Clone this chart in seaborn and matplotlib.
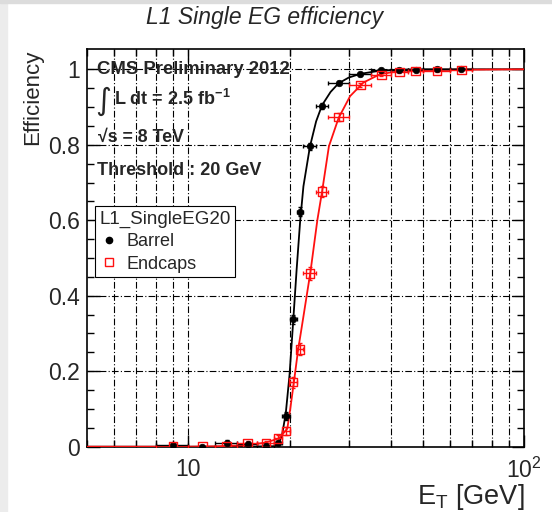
import numpy as np
import pandas as pd
import matplotlib
matplotlib.use('Agg')
import matplotlib.pyplot as plt
import seaborn as sns
from matplotlib.lines import Line2D
from matplotlib.patches import Rectangle
from matplotlib.ticker import FixedLocator, NullFormatter

# Bin centres and edges (GeV)
et = [9, 11, 13, 15, 17, 18.5, 19.5, 20.5, 21.5, 23, 25, 28, 32.5, 37.5, 42.5, 47.5, 55, 65]
bin_lo = [8, 10, 12, 14, 16, 18, 19, 20, 21, 22, 24, 26, 30, 35, 40, 45, 50, 60]
bin_hi = [10, 12, 14, 16, 18, 19, 20, 21, 22, 24, 26, 30, 35, 40, 45, 50, 60, 70]

# Measured efficiencies
barrel_eff = [0.005, 0.0, 0.011, 0.008, 0.003, 0.011, 0.082, 0.338, 0.623, 0.796,
              0.904, 0.965, 0.987, 0.997, 0.999, 0.999, 1.0, 1.0]
barrel_err = [0.005, 0.003, 0.006, 0.005, 0.003, 0.005, 0.01, 0.012, 0.012, 0.01,
              0.008, 0.005, 0.004, 0.002, 0.001, 0.001, 0.001, 0.001]
endcap_eff = [0.0, 0.0, 0.0, 0.01, 0.01, 0.022, 0.042, 0.171, 0.258, 0.459,
              0.676, 0.874, 0.958, 0.985, 0.993, 0.995, 0.996, 0.998]
endcap_err = [0.004, 0.004, 0.004, 0.005, 0.005, 0.008, 0.01, 0.015, 0.016, 0.018,
              0.015, 0.01, 0.006, 0.004, 0.003, 0.003, 0.003, 0.003]

# Fit curves
barrel_fit_x = [5, 10, 15, 18, 18.5, 19.0, 19.5, 20.0, 20.5, 21.0, 21.5, 22.0, 23.0, 24.0,
                25.0, 26.5, 28.0, 30.0, 32.5, 37.0, 42.0, 50.0, 100.0]
barrel_fit_y = [0, 0, 0, 0.001, 0.006, 0.03, 0.09, 0.19, 0.33, 0.47, 0.595, 0.69, 0.795,
                0.862, 0.905, 0.94, 0.963, 0.978, 0.988, 0.996, 0.999, 1.0, 1.0]
endcap_fit_x = [5, 10, 12, 15, 17, 18.6, 19.7, 20.1, 20.6, 21.2, 22.0, 23.1, 24.2, 25.0,
                26.2, 28.0, 30.3, 33.2, 37.2, 42.3, 50.0, 100.0]
endcap_fit_y = [0, 0, 0.001, 0.004, 0.011, 0.022, 0.048, 0.1, 0.17, 0.255, 0.345, 0.465,
                0.6, 0.676, 0.796, 0.871, 0.929, 0.965, 0.987, 0.995, 0.998, 1.0]

y_ticks = [0, 0.2, 0.4, 0.6, 0.8, 1.0]
y_labels = ['0', '0.2', '0.4', '0.6', '0.8', '1']
x_ticks = [10, 100]
x_labels = ['10', '$10^{2}$']

sns.set_style('ticks')
plt.rcParams['font.family'] = ['Liberation Sans', 'DejaVu Sans']
plt.rcParams['mathtext.fontset'] = 'custom'
plt.rcParams['mathtext.rm'] = 'Liberation Sans'
plt.rcParams['mathtext.it'] = 'Liberation Sans:italic'
plt.rcParams['mathtext.bf'] = 'Liberation Sans:bold'

fig = plt.figure(figsize=(5.52, 5.12), dpi=100)
fig.patch.set_facecolor('white')
fig.patches.append(Rectangle((0, 0), 7 / 552, 1, transform=fig.transFigure,
                             color='#ececec', zorder=-10))
fig.patches.append(Rectangle((0, 1 - 3 / 512), 1, 3 / 512, transform=fig.transFigure,
                             color='#dcdcdc', zorder=-10))
ax = fig.add_axes([87.3 / 552, 1 - 446.7 / 512, (524.3 - 87.3) / 552, (446.7 - 49.3) / 512])

ax.set_xscale('log')
ax.set_xlim(5, 100)
ax.set_ylim(0, 1.053)

# grid (ROOT-like dash-dot)
grid_ls = (0, (6, 2, 1, 2))
for xv in list(range(6, 10)) + [10] + list(range(20, 100, 10)):
    ax.axvline(xv, color='k', lw=0.8, ls=grid_ls, zorder=0)
for yv in y_ticks[1:]:
    ax.axhline(yv, color='k', lw=0.8, ls=grid_ls, zorder=0)

df_b = pd.DataFrame({'x': barrel_fit_x, 'y': barrel_fit_y})
df_e = pd.DataFrame({'x': endcap_fit_x, 'y': endcap_fit_y})
sns.lineplot(data=df_b, x='x', y='y', color='black', lw=1.3, estimator=None, sort=False, ax=ax, zorder=3)
sns.lineplot(data=df_e, x='x', y='y', color='#ff1010', lw=1.3, estimator=None, sort=False, ax=ax, zorder=3)

et_a = np.array(et)
xerr = [et_a - np.array(bin_lo), np.array(bin_hi) - et_a]
ax.errorbar(et, barrel_eff, xerr=xerr, yerr=barrel_err, fmt='none', ecolor='black',
            elinewidth=1, capsize=1.5, zorder=4)
ax.errorbar(et, endcap_eff, xerr=xerr, yerr=endcap_err, fmt='none', ecolor='#ff1010',
            elinewidth=1, capsize=1.5, zorder=4)
sns.scatterplot(x=et, y=barrel_eff, marker='o', color='black', s=22, edgecolor='black',
                linewidth=0.5, ax=ax, zorder=5)
sns.scatterplot(x=et, y=endcap_eff, marker='s', facecolor='none', edgecolor='#ff1010',
                s=38, linewidth=1.0, ax=ax, zorder=5)

# ticks
ax.xaxis.set_major_locator(FixedLocator(x_ticks))
ax.set_xticklabels(x_labels)
ax.xaxis.set_minor_locator(FixedLocator(list(range(5, 10)) + list(range(20, 100, 10))))
ax.xaxis.set_minor_formatter(NullFormatter())
ax.set_yticks(y_ticks)
ax.set_yticklabels(y_labels)
ax.yaxis.set_minor_locator(FixedLocator(list(np.arange(0, 1.05, 0.05))))
ax.tick_params(axis='both', which='both', direction='in', top=True, right=True,
               color='black', width=1)
ax.tick_params(axis='y', which='major', length=9, labelsize=16.5, pad=5)
ax.tick_params(axis='y', which='minor', length=5)
ax.tick_params(axis='x', which='major', length=9, labelsize=16.5, pad=8)
ax.tick_params(axis='x', which='minor', length=5)
for sp in ax.spines.values():
    sp.set_visible(True)
    sp.set_linewidth(1.2)
    sp.set_color('black')

ax.set_ylabel('Efficiency', fontsize=16, loc='top')
ax.yaxis.set_label_coords(-0.102, 1.0)
ax.set_xlabel('E$_{\\mathrm{T}}$ [GeV]', fontsize=19.5, loc='right')
ax.xaxis.set_label_coords(1.0, -0.089)

fig.text(0.48, 0.965, 'L1 Single EG efficiency', fontsize=16.5, style='italic',
         ha='center', va='center')

# annotations
tx = (97 - 87.3) / 437
ax.text(tx, 0.948, 'CMS Preliminary 2012', transform=ax.transAxes, fontsize=13.3,
        fontweight='bold', va='center', ha='left', zorder=6)
ax.text(tx - 0.005, 0.87, '\u222b', transform=ax.transAxes, fontsize=22,
        va='center', ha='left', family=['DejaVu Sans'], zorder=6)
ax.text(tx + 0.038, 0.874, 'L dt = 2.5 fb$^{\\mathbf{-1}}$', transform=ax.transAxes,
        fontsize=13, fontweight='bold', va='center', ha='left', zorder=6)
ax.text(tx + 0.003, 0.779, '\u221as = 8 TeV', transform=ax.transAxes, fontsize=12.8,
        fontweight='bold', va='center', ha='left', zorder=6)
ax.text(tx, 0.695, 'Threshold : 20 GeV', transform=ax.transAxes, fontsize=13,
        fontweight='bold', va='center', ha='left', zorder=6)

handles = [Line2D([], [], marker='o', ls='none', color='black', ms=4.5),
           Line2D([], [], marker='s', ls='none', mfc='none', mec='#ff1010', ms=6, mew=1)]
leg = ax.legend(handles, ['Barrel', 'Endcaps'], title='L1_SingleEG20', loc='upper left',
                bbox_to_anchor=((95 - 87.3) / 437, (446.7 - 206) / 397.4),
                fontsize=13, title_fontsize=13.5, frameon=True, fancybox=False,
                framealpha=1, edgecolor='black', alignment='left', borderpad=0.25,
                handletextpad=0.5, handlelength=1.0, labelspacing=0.3, borderaxespad=0)
leg.get_frame().set_linewidth(0.8)
leg.set_zorder(7)

fig.savefig('out.png', dpi=100)
